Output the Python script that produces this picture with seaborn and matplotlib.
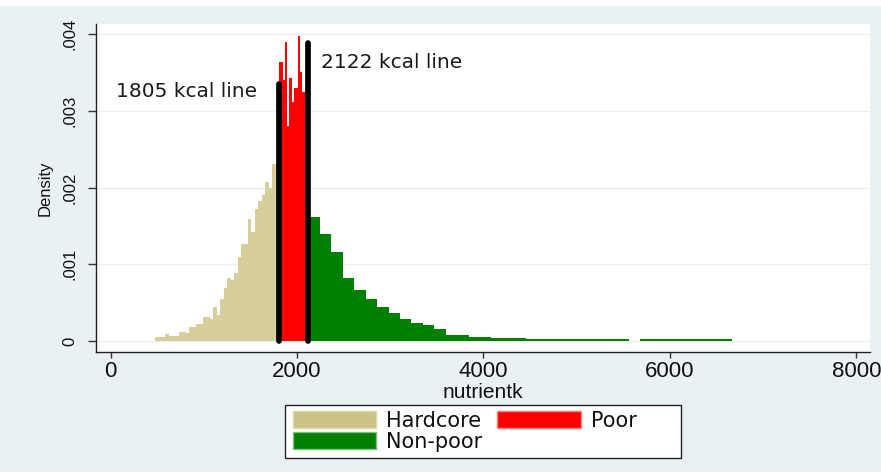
import numpy as np
import pandas as pd
import matplotlib
matplotlib.use("Agg")
import matplotlib.pyplot as plt
from matplotlib.patches import Patch, Rectangle
import seaborn as sns

# ---------------- data ----------------
hardcore_range = (475, 1805)
hardcore_density = [
    0.000048, 0.000056, 0.000056, 0.000091, 0.000065, 0.000065, 0.000065,
    0.000121, 0.000115, 0.000108, 0.000178, 0.000178, 0.000221, 0.000221,
    0.000317, 0.000317, 0.000287, 0.000447, 0.000339, 0.000543, 0.000694,
    0.000825, 0.000795, 0.000882, 0.001091, 0.001260, 0.001260, 0.001586,
    0.001416, 0.001716, 0.001828, 0.001902, 0.002068, 0.001990, 0.002306,
    0.002306,
]

poor_range = (1805, 2122)
poor_density = [
    0.003631, 0.003631, 0.003400, 0.003892, 0.002802, 0.003427, 0.003118,
    0.003293, 0.003293, 0.003974, 0.003509, 0.003248, 0.003248, 0.003248,
]

nonpoor_start = 2122
nonpoor_binwidth = 122.7
nonpoor_density = [
    0.001620, 0.001390, 0.001164, 0.000825, 0.000665, 0.000551, 0.000439,
    0.000361, 0.000283, 0.000231, 0.000210, 0.000160, 0.000078, 0.000078,
    0.000056, 0.000056, 0.000045, 0.000035, 0.000035,
    0.000026, 0.000026, 0.000026, 0.000026, 0.000026, 0.000026, 0.000026,
    0.000026, 0.000026,
    0.0,
    0.000026, 0.000026, 0.000026, 0.000026, 0.000026, 0.000026, 0.000026,
    0.000026,
]

cutoff_lines = [1805, 2122]
cutoff_heights = [0.00335, 0.00388]
cutoff_labels = ["1805 kcal line", "2122 kcal line"]
cutoff_label_pos = [(57, 0.00318), (2255, 0.003557)]

group_labels = ["Hardcore", "Poor", "Non-poor"]
x_ticks = [0, 2000, 4000, 6000, 8000]
x_ticklabels = ["0", "2000", "4000", "6000", "8000"]
y_ticks = [0, 0.001, 0.002, 0.003, 0.004]
y_ticklabels = ["0", ".001", ".002", ".003", ".004"]
x_title = "nutrientk"
y_title = "Density"

# ---------------- styling ----------------
sns.set_style("white")
plt.rcParams["font.family"] = ["Liberation Sans", "DejaVu Sans"]

BG = "#e9f1f3"
KHAKI = "#d6cf9b"
RED = "#ff0000"
GREEN = "#008000"
W, H = 881, 472

fig = plt.figure(figsize=(W / 100, H / 100), dpi=100)
fig.patch.set_facecolor(BG)
fig.patches.append(Rectangle((0, 1 - 6 / H), 1, 6 / H,
                             transform=fig.transFigure, facecolor="white",
                             edgecolor="none", zorder=0))

ax = fig.add_axes([95.5 / W, 1 - 352 / H, (869.7 - 95.5) / W, (352 - 24) / H])
ax.set_facecolor("white")


def draw_group(density, edges, color):
    edges = [float(e) for e in edges]
    centers = [(a + b) / 2 for a, b in zip(edges[:-1], edges[1:])]
    df = pd.DataFrame({"x": centers, "w": list(density)})
    sns.histplot(data=df, x="x", weights="w", bins=edges, stat="count",
                 color=color, alpha=1, linewidth=0, element="bars",
                 ax=ax, zorder=2)


hc_edges = np.linspace(hardcore_range[0], hardcore_range[1], len(hardcore_density) + 1)
pr_edges = np.linspace(poor_range[0], poor_range[1], len(poor_density) + 1)
np_edges = nonpoor_start + nonpoor_binwidth * np.arange(len(nonpoor_density) + 1)

draw_group(hardcore_density, hc_edges, KHAKI)
draw_group(poor_density, pr_edges, RED)
draw_group(nonpoor_density, np_edges, GREEN)

# cut-off lines
for xv, h in zip(cutoff_lines, cutoff_heights):
    ax.plot([xv, xv], [0, h], color="black", lw=4.1,
            solid_capstyle="round", zorder=4)
for (tx, ty), lab in zip(cutoff_label_pos, cutoff_labels):
    ax.text(tx, ty, lab, fontsize=14.5, family=["DejaVu Sans"],
            color="#1a1a1a", ha="left", va="baseline", zorder=5)

# axes
ax.set_xlim(-163, 8144)
ax.set_ylim(-0.000143, 0.00413)
ax.set_xticks(x_ticks)
ax.set_xticklabels(x_ticklabels, fontsize=16)
ax.set_yticks(y_ticks)
ax.set_yticklabels(y_ticklabels, fontsize=12, rotation=90, va="center")
ax.tick_params(axis="x", direction="out", length=4, width=1, pad=2.5,
               color="#333333", labelcolor="#111111", bottom=True)
ax.tick_params(axis="y", direction="out", length=6, width=1, pad=7,
               color="#333333", labelcolor="#111111", left=True)
ax.set_xlabel(x_title, fontsize=15, labelpad=0.5, color="#111111")
ax.set_ylabel(y_title, fontsize=12, labelpad=7, color="#111111")

ax.yaxis.grid(True, color="#e9f0f2", lw=1.0)
ax.xaxis.grid(False)
ax.set_axisbelow(True)
for s in ["top", "right"]:
    ax.spines[s].set_visible(False)
for s in ["left", "bottom"]:
    ax.spines[s].set_color("#222222")
    ax.spines[s].set_linewidth(1)

# legend frame box
fig.patches.append(Rectangle((285 / W, 1 - 458 / H), (681 - 285) / W, (458 - 405) / H,
                             transform=fig.transFigure, facecolor="white",
                             edgecolor="#222222", lw=1, zorder=1))

# legend (row-major: Hardcore, Poor / Non-poor)
handles = [
    Patch(facecolor="#cbc386", edgecolor="#ddd8ad", lw=1, label=group_labels[0]),
    Patch(facecolor=GREEN, edgecolor="#7fbf7f", lw=1, label=group_labels[2]),
    Patch(facecolor=RED, edgecolor="#ff7f7f", lw=1, label=group_labels[1]),
]
leg = fig.legend(handles=handles, ncol=2, loc="center left",
                 bbox_to_anchor=(292.7 / W, 1 - 431.2 / H),
                 frameon=False, borderaxespad=0, borderpad=0,
                 prop={"family": "DejaVu Sans", "size": 15},
                 handlelength=4.0, handleheight=0.82, handletextpad=0.48,
                 columnspacing=0.72, labelspacing=0.05)
leg.set_zorder(3)
for t in leg.get_texts():
    t.set_color("#111111")

fig.savefig("out.png", dpi=100, facecolor=fig.get_facecolor())
